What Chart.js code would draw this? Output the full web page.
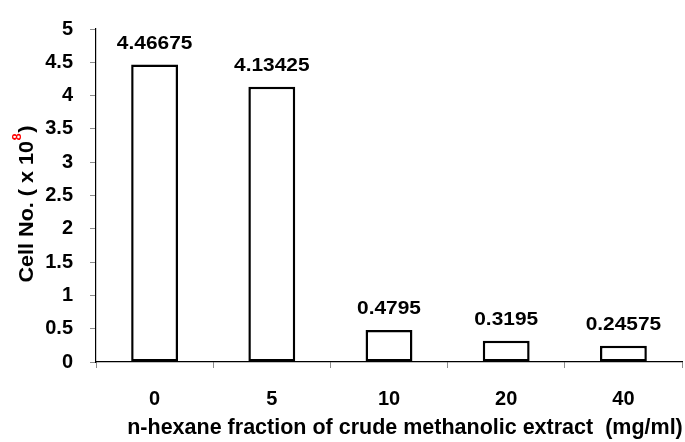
<!DOCTYPE html>
<html>
<head>
<meta charset="utf-8">
<script src="https://cdn.jsdelivr.net/npm/chart.js@4.4.1/dist/chart.umd.min.js"></script>
<style>
    html, body { margin: 0; padding: 0; background: #fff; }
    #wrap { width: 685px; height: 442px; position: relative; }
</style>
</head>
<body>
<div id="wrap"><canvas id="cellChart"></canvas></div>
<script>
// data
const concentrations = ['0', '5', '10', '20', '40'];
const cellCounts = [4.46675, 4.13425, 0.4795, 0.3195, 0.24575];
const valueLabels = ['4.46675', '4.13425', '0.4795', '0.3195', '0.24575'];
const yTicks = [0, 0.5, 1, 1.5, 2, 2.5, 3, 3.5, 4, 4.5, 5];

const xTitle = 'n-hexane fraction of crude methanolic extract  (mg/ml)';
const yTitleMain = 'Cell No. ( x 10';
const yTitleSup = '8';
const yTitleEnd = ')';

const FONT = '"Liberation Sans", Arial, Helvetica, sans-serif';

// value labels above the bars
const barLabels = {
    id: 'barLabels',
    afterDatasetsDraw(chart) {
        const ctx = chart.ctx;
        const meta = chart.getDatasetMeta(0);
        ctx.save();
        ctx.fillStyle = '#000';
        ctx.font = 'bold 19px ' + FONT;
        ctx.textAlign = 'center';
        ctx.textBaseline = 'alphabetic';
        meta.data.forEach((bar, i) => {
            ctx.save();
            ctx.translate(bar.x, bar.y - 16);
            ctx.scale(1.1, 1);
            ctx.fillText(valueLabels[i], 0, 0);
            ctx.restore();
        });
        ctx.restore();
    }
};

// axis titles (y title has a red superscript)
const axisTitles = {
    id: 'axisTitles',
    afterDraw(chart) {
        const ctx = chart.ctx;
        ctx.save();
        ctx.fillStyle = '#000';
        ctx.textBaseline = 'alphabetic';

        ctx.font = 'bold 21.5px ' + FONT;
        ctx.textAlign = 'center';
        ctx.fillText(xTitle, 405, 434);

        // y title, rotated
        ctx.translate(33, 204);
        ctx.rotate(-Math.PI / 2);
        ctx.scale(1.08, 1);
        ctx.font = 'bold 20px ' + FONT;
        const wMain = ctx.measureText(yTitleMain).width;
        const wEnd = ctx.measureText(yTitleEnd).width;
        ctx.font = 'bold 12px ' + FONT;
        const wSup = ctx.measureText(yTitleSup).width;
        const total = wMain + wSup + wEnd + 1;
        let x = -total / 2;
        ctx.textAlign = 'left';
        ctx.font = 'bold 20px ' + FONT;
        ctx.fillText(yTitleMain, x, 0);
        x += wMain + 0.5;
        ctx.font = 'bold 12px ' + FONT;
        ctx.fillStyle = '#ff0000';
        ctx.fillText(yTitleSup, x, -12);
        x += wSup + 0.5;
        ctx.fillStyle = '#000';
        ctx.font = 'bold 20px ' + FONT;
        ctx.fillText(yTitleEnd, x, 0);
        ctx.restore();
    }
};

new Chart(document.getElementById('cellChart'), {
    type: 'bar',
    data: {
        labels: concentrations,
        datasets: [{
            data: cellCounts,
            backgroundColor: '#ffffff',
            borderColor: '#000000',
            borderWidth: 2.5,
            borderSkipped: false,
            categoryPercentage: 1.0,
            barPercentage: 0.4
        }]
    },
    options: {
        responsive: true,
        maintainAspectRatio: false,
        devicePixelRatio: 1,
        animation: false,
        layout: { padding: { top: 17, right: 3, left: 0, bottom: 0 } },
        plugins: {
            legend: { display: false },
            tooltip: { enabled: false }
        },
        scales: {
            x: {
                grid: {
                    display: true,
                    drawOnChartArea: false,
                    tickLength: 6,
                    tickColor: '#8c8c8c',
                    offset: true
                },
                border: { display: true, color: '#000', width: 1.2 },
                ticks: {
                    color: '#000',
                    padding: 19,
                    font: { family: FONT, size: 20, weight: 'bold' }
                },
                afterFit(scale) { scale.height = 80; }
            },
            y: {
                min: 0,
                max: 5,
                afterBuildTicks(scale) {
                    scale.ticks = yTicks.map(v => ({ value: v }));
                },
                grid: {
                    display: true,
                    drawOnChartArea: false,
                    tickLength: 6,
                    tickColor: '#8c8c8c'
                },
                border: { display: true, color: '#000', width: 1.2 },
                ticks: {
                    color: '#000',
                    padding: 17,
                    font: { family: FONT, size: 20, weight: 'bold' },
                    callback: (v) => String(v)
                },
                afterFit(scale) { scale.width = 96; }
            }
        }
    },
    plugins: [barLabels, axisTitles]
});
</script>
</body>
</html>
